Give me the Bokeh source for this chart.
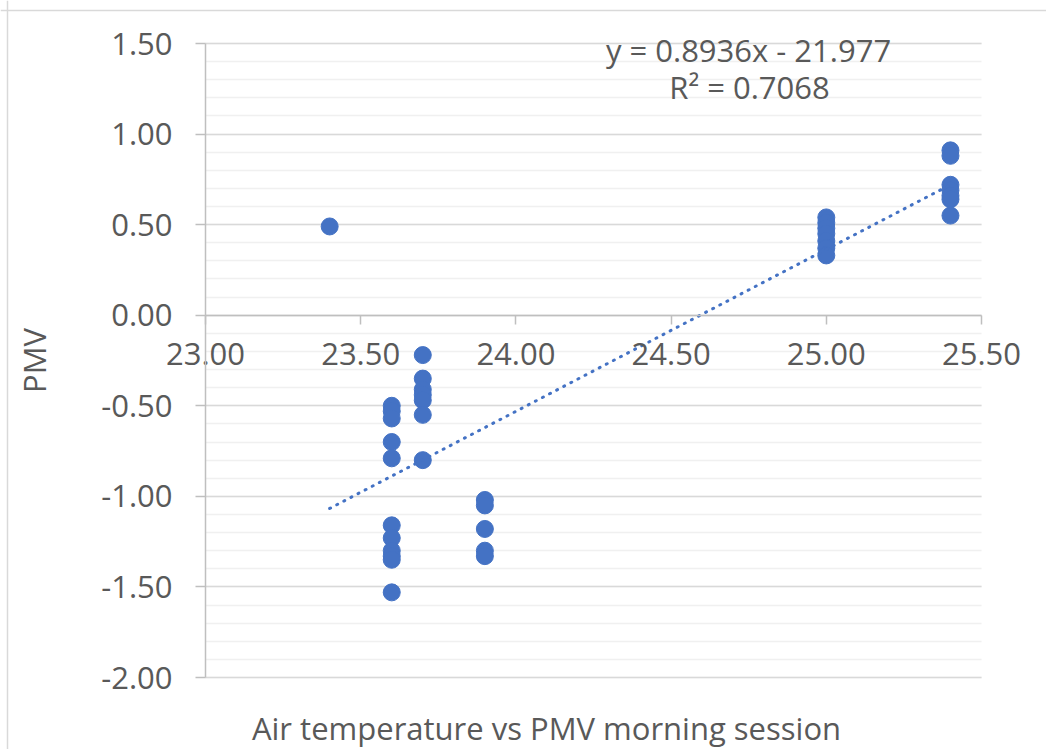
from bokeh.plotting import figure
from bokeh.models import Range1d, FixedTicker, NumeralTickFormatter, Label, Span
from bokeh.embed import file_html
from bokeh.resources import INLINE

# ---- data ----
temp = ([23.4]
        + [23.6] * 11
        + [23.7] * 7
        + [23.9] * 5
        + [25.0] * 7
        + [25.4] * 7)
pmv = ([0.49]
       + [-0.50, -0.53, -0.57, -0.70, -0.79, -1.16, -1.23, -1.30, -1.33, -1.35, -1.53]
       + [-0.22, -0.35, -0.41, -0.44, -0.47, -0.55, -0.80]
       + [-1.02, -1.05, -1.18, -1.30, -1.33]
       + [0.54, 0.51, 0.48, 0.45, 0.41, 0.37, 0.33]
       + [0.91, 0.88, 0.72, 0.69, 0.66, 0.64, 0.55])

slope = 0.8936
intercept = -21.977
r_squared = 0.7068

x_ticks = [23.0, 23.5, 24.0, 24.5, 25.0, 25.5]
y_ticks = [-2.0, -1.5, -1.0, -0.5, 0.0, 0.5, 1.0, 1.5]
y_minor = [round(-2.0 + 0.1 * i, 1) for i in range(36)]

title_text = "Air temperature vs PMV morning session"
y_label = "PMV"

# ---- layout (pixels) ----
W, H = 1046, 749
X0, X1 = x_ticks[0], x_ticks[-1]
Y0, Y1 = y_ticks[0], y_ticks[-1]
PX_LEFT, PX_RIGHT = 205, 981      # canvas px of x = 23.0 and 25.5
PX_TOP, PX_BOTTOM = 43, 677       # canvas px of y = 1.5 and -2.0
sx = (PX_RIGHT - PX_LEFT) / (X1 - X0)
sy = (PX_BOTTOM - PX_TOP) / (Y1 - Y0)

def dx(px):
    return X0 + (px - PX_LEFT) / sx

def dy(py):
    return Y1 - (py - PX_TOP) / sy

# ---- styling ----
FONT = "Open Sans"
TXT = "#595959"
AXIS = "#bfbfbf"
BLUE = "#4472C4"
FS = "31px"

p = figure(width=W, height=H, output_backend="svg", toolbar_location=None,
           x_range=Range1d(dx(0), dx(W)), y_range=Range1d(dy(H), dy(0)),
           min_border=0)
p.outline_line_color = None
p.background_fill_color = "white"
p.border_fill_color = "white"

# chart border (left and top visible)
p.add_layout(Span(location=dx(7), dimension="height", line_color="#d9d9d9", line_width=1.5))
p.add_layout(Span(location=dy(10), dimension="width", line_color="#d9d9d9", line_width=1.5))

# x axis crossing at y = 0
xa = p.xaxis[0]
xa.fixed_location = 0
xa.bounds = (X0, X1)
xa.ticker = FixedTicker(ticks=x_ticks)
xa.formatter = NumeralTickFormatter(format="0.00")
xa.axis_line_color = AXIS
xa.axis_line_width = 1.5
xa.major_tick_line_color = AXIS
xa.major_tick_line_width = 1.5
xa.major_tick_out = 9
xa.major_tick_in = 0
xa.minor_tick_line_color = None
xa.major_label_text_font = FONT
xa.major_label_text_font_size = FS
xa.major_label_text_color = TXT
xa.major_label_standoff = 19

# y axis at x = 23.0
ya = p.yaxis[0]
ya.fixed_location = X0
ya.bounds = (Y0, Y1)
yt = FixedTicker(ticks=y_ticks, minor_ticks=y_minor)
ya.ticker = yt
ya.formatter = NumeralTickFormatter(format="0.00")
ya.axis_line_color = AXIS
ya.axis_line_width = 1.5
ya.major_tick_line_color = AXIS
ya.major_tick_line_width = 1.5
ya.major_tick_out = 10
ya.major_tick_in = 0
ya.minor_tick_line_color = None
ya.major_label_text_font = FONT
ya.major_label_text_font_size = FS
ya.major_label_text_color = TXT
ya.major_label_standoff = 23
ya.axis_label = y_label
ya.axis_label_text_font = FONT
ya.axis_label_text_font_size = FS
ya.axis_label_text_font_style = "normal"
ya.axis_label_text_color = TXT
ya.axis_label_standoff = 43

p.xgrid.visible = False
p.ygrid.ticker = yt
p.ygrid.cross_bounds = (X0, X1)
p.ygrid.grid_line_color = "#d9d9d9"
p.ygrid.grid_line_width = 1.5
p.ygrid.minor_grid_line_color = "#f0f0f0"
p.ygrid.minor_grid_line_width = 1.5

# points
p.scatter(temp, pmv, size=17, fill_color=BLUE, line_color=BLUE)

# linear trendline over data range
tx = [min(temp), max(temp)]
ty = [slope * v + intercept for v in tx]
p.line(tx, ty, line_color=BLUE, line_width=3, line_dash="1 7", line_cap="round")

# equation labels
eq1 = "y = %.4fx - %.3f" % (slope, -intercept)
eq2 = "R² = %.4f" % r_squared
p.add_layout(Label(x=dx(748), y=dy(49), text=eq1, text_align="center", text_baseline="middle",
                   text_font=FONT, text_font_size=FS, text_color=TXT))
p.add_layout(Label(x=dx(749), y=dy(86), text=eq2, text_align="center", text_baseline="middle",
                   text_font=FONT, text_font_size=FS, text_color=TXT))

# bottom title
p.add_layout(Label(x=dx(546), y=dy(727), text=title_text, text_align="center",
                   text_baseline="middle", text_font=FONT, text_font_size=FS,
                   text_color=TXT))

open("out.html", "w").write(file_html(p, INLINE))
